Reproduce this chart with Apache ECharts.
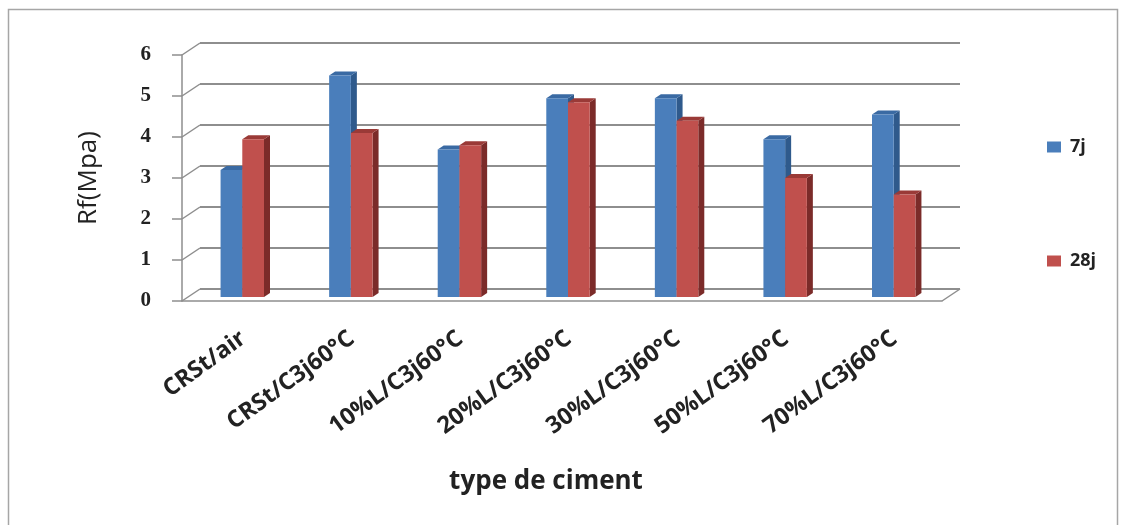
<!DOCTYPE html>
<html>
<head>
<meta charset="utf-8">
<script src="https://cdn.jsdelivr.net/npm/echarts@6/dist/echarts.min.js"></script>
<style>
  html, body { margin: 0; padding: 0; background: #fff; }
  #chart { width: 1126px; height: 525px; }
</style>
</head>
<body>
<div id="chart"></div>
<script>
// Flexural strength by cement type, at 7 and 28 days
const categories = ['CRSt/air', 'CRSt/C3j60°C', '10%L/C3j60°C', '20%L/C3j60°C', '30%L/C3j60°C', '50%L/C3j60°C', '70%L/C3j60°C'];
const values7j = [3.1, 5.4, 3.6, 4.85, 4.85, 3.85, 4.45];
const values28j = [3.85, 4.0, 3.7, 4.75, 4.3, 2.9, 2.5];
const yTicks = [0, 1, 2, 3, 4, 5, 6];

const GRID_LINE = '#8e8e8e';
const DEPTH_X = 6, DEPTH_Y = -4;   // oblique offset of the bars' side faces
const BAR_LIFT = 4;                // bars stand slightly behind the front plane
const WALL_X = 18, WALL_Y = -12;   // offset of the back wall from the front plane
const LABEL_SHIFT = 7;             // category labels follow the bars' depth

const palette = {
  '7j':  { front: '#4a7ebb', side: '#2f5a8c', top: '#3a6aa3' },
  '28j': { front: '#c0504d', side: '#7b2b29', top: '#9a3a37' }
};

// Draws one oblique bar (front, side and top faces) from a data value
function bar3d(seriesIdx, colors) {
  return function (params, api) {
    const ci = api.value(0);
    const v = api.value(1);
    const base = api.coord([ci, 0]);
    const top = api.coord([ci, v]);
    const band = api.size([1, 0])[0];
    const bw = band * 0.2;
    const x0 = base[0] - bw + 6 + seriesIdx * bw;
    const x1 = x0 + bw;
    const yb = base[1] - BAR_LIFT, yt = top[1] - BAR_LIFT;
    return {
      type: 'group',
      children: [
        { type: 'polygon', shape: { points: [[x1, yt], [x1 + DEPTH_X, yt + DEPTH_Y], [x1 + DEPTH_X, yb + DEPTH_Y], [x1, yb]] },
          style: { fill: colors.side } },
        { type: 'polygon', shape: { points: [[x0, yt], [x0 + DEPTH_X, yt + DEPTH_Y], [x1 + DEPTH_X, yt + DEPTH_Y], [x1, yt]] },
          style: { fill: colors.top } },
        { type: 'rect', shape: { x: x0, y: yt, width: bw, height: yb - yt },
          style: { fill: colors.front } }
      ]
    };
  };
}

const chart = echarts.init(document.getElementById('chart'));

const frontGrid = { left: 182, right: 184, top: 55, bottom: 224 };
const backGrid = { left: frontGrid.left + WALL_X, right: frontGrid.right - WALL_X,
                   top: frontGrid.top + WALL_Y, bottom: frontGrid.bottom - WALL_Y };
const labelGrid = { left: frontGrid.left + LABEL_SHIFT, right: frontGrid.right - LABEL_SHIFT,
                    top: frontGrid.top, bottom: frontGrid.bottom };

chart.setOption({
  backgroundColor: '#ffffff',
  animation: false,
  grid: [
    Object.assign({}, frontGrid),
    Object.assign({}, backGrid),
    Object.assign({}, labelGrid)
  ],
  legend: {
    orient: 'vertical',
    left: 1042,
    top: 133,
    itemWidth: 14,
    itemHeight: 11,
    itemGap: 96,
    icon: 'rect',
    textStyle: { fontFamily: 'Open Sans', fontWeight: 'bold', fontSize: 18, color: '#222', padding: [0, 0, 0, 4] },
    data: ['7j', '28j']
  },
  xAxis: [
    {
      gridIndex: 0,
      type: 'category',
      data: categories,
      axisLine: { lineStyle: { color: GRID_LINE, width: 1.5 } },
      axisTick: { show: false },
      axisLabel: { show: false }
    },
    {
      gridIndex: 1,
      type: 'category',
      data: categories,
      show: false
    },
    {
      gridIndex: 2,
      type: 'category',
      data: categories,
      axisLine: { show: false },
      axisTick: { show: false },
      axisLabel: {
        rotate: 36,
        margin: 35,
        fontFamily: 'Open Sans',
        fontWeight: 'bold',
        fontSize: 23.5,
        color: '#222'
      },
      name: 'type de ciment',
      nameLocation: 'middle',
      nameGap: 168,
      nameTextStyle: { fontFamily: 'Open Sans', fontWeight: 'bold', fontSize: 26, color: '#222', padding: [0, 46, 0, 0] }
    }
  ],
  yAxis: [
    {
      gridIndex: 0,
      type: 'value',
      min: 0, max: 6, interval: 1,
      axisLine: { show: true, lineStyle: { color: GRID_LINE, width: 1.5 } },
      axisTick: { show: true, length: 10, lineStyle: { color: GRID_LINE, width: 1.5 } },
      splitLine: { show: false },
      axisLabel: {
        margin: 31,
        fontFamily: 'Liberation Serif',
        fontWeight: 'bold',
        fontSize: 21,
        color: '#222',
        formatter: function (v) { return yTicks.indexOf(v) >= 0 ? String(v) : ''; }
      },
      name: 'Rf(Mpa)',
      nameLocation: 'middle',
      nameGap: 80,
      nameRotate: 90,
      nameTextStyle: { fontFamily: 'Open Sans', fontSize: 26, color: '#222' }
    },
    {
      gridIndex: 1,
      type: 'value',
      min: 0, max: 6, interval: 1,
      axisLine: { show: false },
      axisTick: { show: false },
      axisLabel: { show: false },
      splitLine: { show: true, lineStyle: { color: GRID_LINE, width: 1.8 } }
    },
    {
      gridIndex: 2,
      type: 'value',
      min: 0, max: 6, interval: 1,
      show: false
    }
  ],
  series: [
    {
      name: '7j',
      type: 'custom',
      xAxisIndex: 0, yAxisIndex: 0,
      z: 5,
      itemStyle: { color: palette['7j'].front },
      renderItem: bar3d(0, palette['7j']),
      data: values7j.map(function (v, i) { return [i, v]; })
    },
    {
      name: '28j',
      type: 'custom',
      xAxisIndex: 0, yAxisIndex: 0,
      z: 6,
      itemStyle: { color: palette['28j'].front },
      renderItem: bar3d(1, palette['28j']),
      data: values28j.map(function (v, i) { return [i, v]; })
    }
  ]
});

// Side wall and floor edges joining the front axis to the back wall
const W = 1126;
const fx = frontGrid.left, bx = backGrid.left;
const frx = W - frontGrid.right, brx = W - backGrid.right;
const wallLines = yTicks.map(function (t) {
  const fy = chart.convertToPixel({ yAxisIndex: 0 }, t);
  const by = chart.convertToPixel({ yAxisIndex: 1 }, t);
  return { type: 'line', shape: { x1: fx, y1: fy, x2: bx, y2: by },
           style: { stroke: GRID_LINE, lineWidth: 1.5 }, z: 1 };
});
const floorFront = chart.convertToPixel({ yAxisIndex: 0 }, 0);
const floorBack = chart.convertToPixel({ yAxisIndex: 1 }, 0);
wallLines.push({ type: 'line', shape: { x1: frx, y1: floorFront, x2: brx, y2: floorBack },
                 style: { stroke: GRID_LINE, lineWidth: 1.5 }, z: 1 });
wallLines.push({ type: 'rect', shape: { x: 8.5, y: 9.5, width: 1109, height: 530 },
                 style: { fill: null, stroke: '#a6a6a6', lineWidth: 1.5 }, z: 0 });

chart.setOption({ graphic: wallLines });
</script>
</body>
</html>
